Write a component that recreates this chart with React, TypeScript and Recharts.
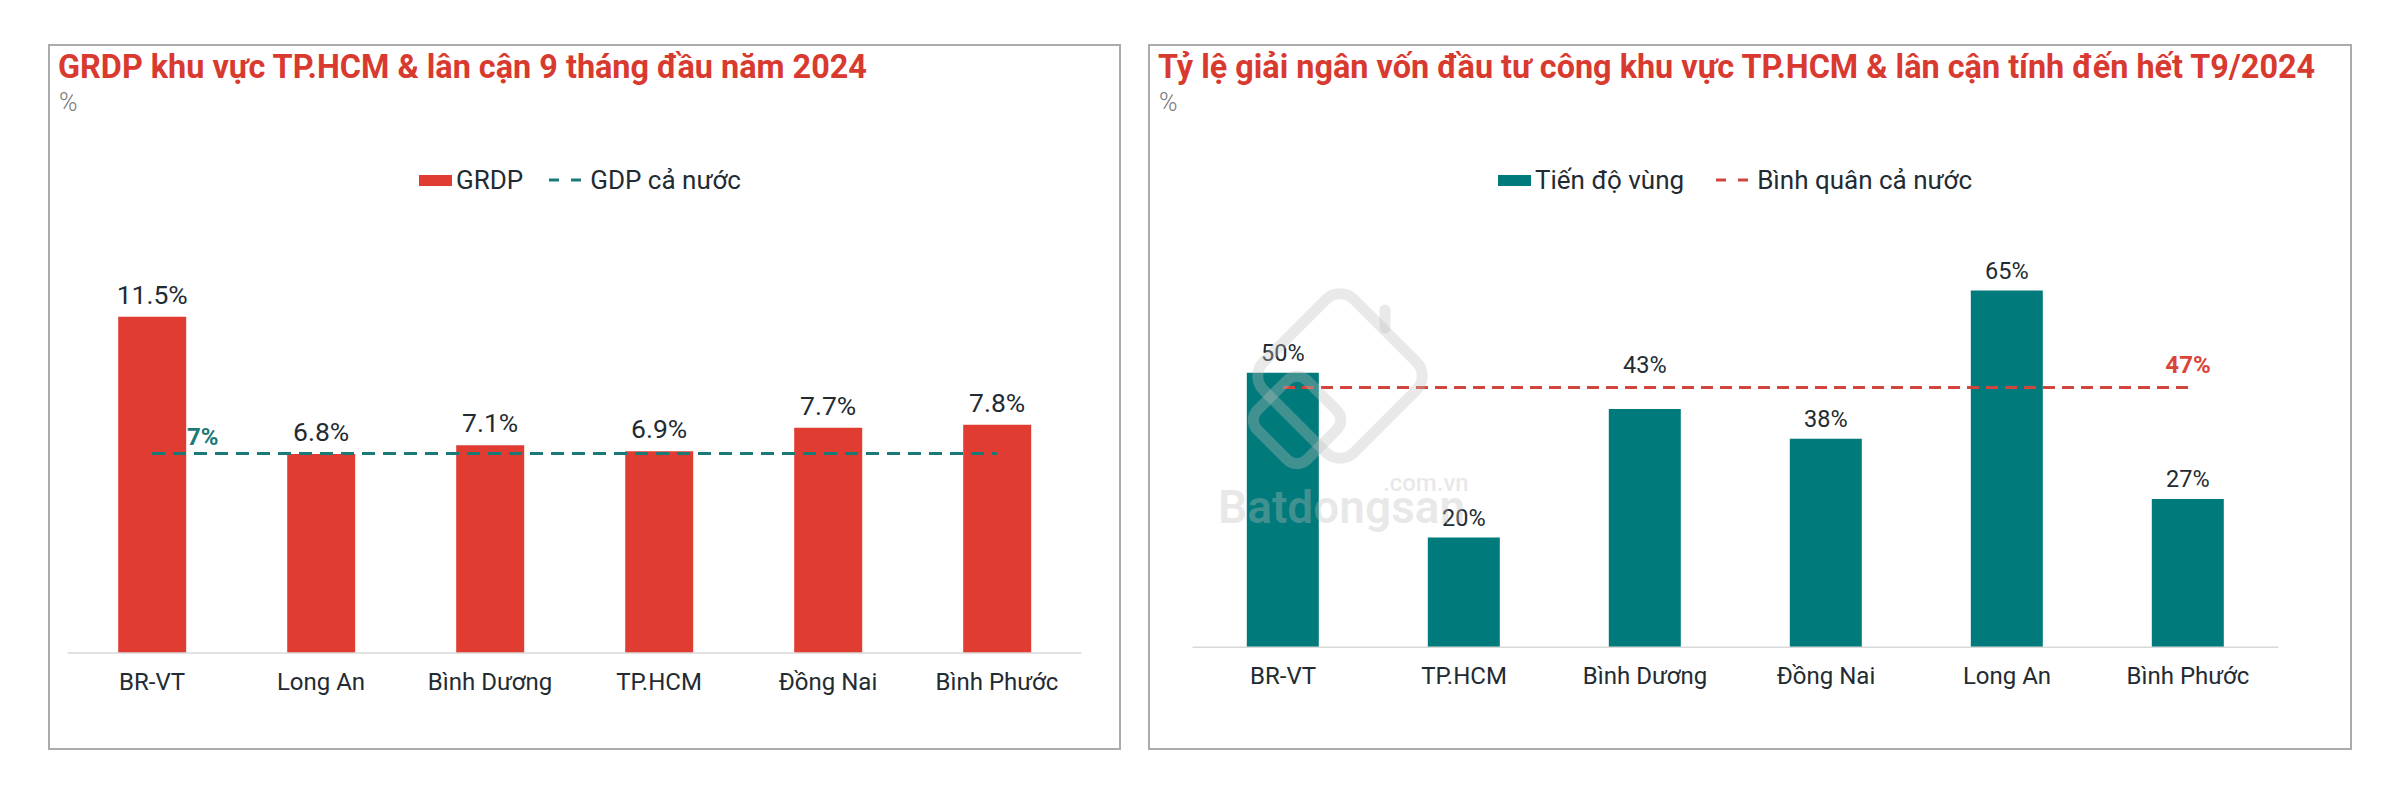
import React from 'react';
import { ComposedChart, Bar, Line, XAxis, YAxis, LabelList } from 'recharts';

// ---------- data ----------
const grdpCategories = ['BR-VT', 'Long An', 'Bình Dương', 'TP.HCM', 'Đồng Nai', 'Bình Phước'];
const grdpValues = [11.5, 6.8, 7.1, 6.9, 7.7, 7.8];
const gdpNational = 6.82;

const disbCategories = ['BR-VT', 'TP.HCM', 'Bình Dương', 'Đồng Nai', 'Long An', 'Bình Phước'];
const disbValues = [50, 20, 43.4, 38, 65, 27];
const disbNational = 47.3;

const leftTitle = 'GRDP khu vực TP.HCM & lân cận 9 tháng đầu năm 2024';
const rightTitle = 'Tỷ lệ giải ngân vốn đầu tư công khu vực TP.HCM & lân cận tính đến hết T9/2024';
const leftLegend = ['GRDP', 'GDP cả nước'];
const rightLegend = ['Tiến độ vùng', 'Bình quân cả nước'];
const unitLabel = '%';

const grdpData = grdpCategories.map((name, i) => ({ name, value: grdpValues[i], avg: gdpNational }));
const disbData = disbCategories.map((name, i) => ({ name, value: disbValues[i], avg: disbNational }));

// ---------- styles ----------
const FONT = 'Roboto, "Noto Sans", sans-serif';
const RED = '#E03C32';
const TEAL = '#007A7A';
const TEAL_LINE = '#1B7A78';
const RED_LINE = '#D0463C';
const TITLE_RED = '#D93A30';
const TEXT = '#232B32';
const BORDER = '#ABABAB';

function getBox(props: any) {
  const vb = props.viewBox || {};
  return {
    x: props.x ?? vb.x,
    y: props.y ?? vb.y,
    width: props.width ?? vb.width ?? 0,
    height: props.height ?? vb.height ?? 0,
  };
}

function makeBarLabel(fmt: (v: number) => string, avg: number, gap: number, fontSize: number) {
  return (props: any) => {
    const { x, y, width, height } = getBox(props);
    const value = Number(props.value);
    if (x == null || y == null || !value) return null;
    const pxPerUnit = height / value;
    const lineY = y + height - avg * pxPerUnit;
    let cy = y - gap;
    if (Math.abs(cy - lineY) < 15) cy = lineY - 23;
    return (
      <text
        x={x + width / 2}
        y={cy + fontSize * 0.355}
        textAnchor="middle"
        fontSize={fontSize}
        fontFamily={FONT}
        fill={TEXT}
      >
        {fmt(value)}
      </text>
    );
  };
}

function makeAvgLabel(which: 'first' | 'last', count: number, color: string, fontSize: number) {
  return (props: any) => {
    const { x, y } = getBox(props);
    const idx = props.index;
    const target = which === 'first' ? 0 : count - 1;
    if (idx !== target || x == null || y == null) return null;
    const txt = `${Math.round(Number(props.value))}%`;
    if (which === 'first') {
      return (
        <text x={x + 35} y={y - 17 + fontSize * 0.355} textAnchor="start" fontSize={fontSize}
          fontWeight={700} fontFamily={FONT} fill={color}>{txt}</text>
      );
    }
    return (
      <text x={x} y={y - 23 + fontSize * 0.355} textAnchor="middle" fontSize={fontSize}
        fontWeight={700} fontFamily={FONT} fill={color}>{txt}</text>
    );
  };
}

function LegendRow({ left, top, barColor, lineColor, labels, gap }: any) {
  return (
    <div
      style={{
        position: 'absolute', left, top, display: 'flex', alignItems: 'center',
        fontFamily: FONT, fontSize: 26, color: TEXT, lineHeight: '30px', whiteSpace: 'nowrap',
      }}
    >
      <span style={{ width: 33, height: 11, background: barColor, display: 'inline-block', marginRight: 4 }} />
      <span>{labels[0]}</span>
      <svg width={33} height={6} style={{ marginLeft: gap, marginRight: 8 }}>
        <line x1={0} y1={3} x2={33} y2={3} stroke={lineColor} strokeWidth={3} strokeDasharray="10 12" />
      </svg>
      <span>{labels[1]}</span>
    </div>
  );
}

function Title({ left, text }: any) {
  return (
    <>
      <div style={{ position: 'absolute', left, top: 51.2, fontFamily: FONT, fontWeight: 700, fontSize: 32.4,
        lineHeight: '32.4px', color: TITLE_RED, whiteSpace: 'nowrap' }}>{text}</div>
      <div style={{ position: 'absolute', left: left + 1, top: 89.7, fontFamily: FONT, fontWeight: 300, fontSize: 25,
        lineHeight: '25px', color: '#7A7A7A' }}>{unitLabel}</div>
    </>
  );
}

function Watermark() {
  const c = 'rgba(190,190,190,0.34)';
  return (
    <svg width={320} height={280} style={{ position: 'absolute', left: 1190, top: 270, pointerEvents: 'none' }}>
      <g fill="none" stroke={c} strokeWidth={11} strokeLinejoin="round" strokeLinecap="round">
        <rect x={86} y={42} width={128} height={128} rx={20} transform="rotate(45 150 106)" />
        <rect x={72} y={115} width={70} height={70} rx={14} transform="rotate(45 107 150)" />
        <line x1={195} y1={40} x2={195} y2={58} />
      </g>
      <text x={28} y={253} fontFamily={FONT} fontWeight={600} fontSize={46} fill={c}>Batdongsan</text>
      <text x={193} y={221} fontFamily={FONT} fontWeight={500} fontSize={24} fill={c}>.com.vn</text>
    </svg>
  );
}

export default function App() {
  return (
    <div style={{ position: 'absolute', left: 0, top: 0, width: 2386, height: 790, background: '#fff', overflow: 'hidden' }}>
      {/* panels */}
      <div style={{ position: 'absolute', left: 48, top: 44, width: 1073, height: 706, border: `2px solid ${BORDER}`, boxSizing: 'border-box' }} />
      <div style={{ position: 'absolute', left: 1148, top: 44, width: 1204, height: 706, border: `2px solid ${BORDER}`, boxSizing: 'border-box' }} />

      <Title left={58} text={leftTitle} />
      <Title left={1158} text={rightTitle} />

      <LegendRow left={419} top={165} barColor={RED} lineColor={TEAL_LINE} labels={leftLegend} gap={26} />
      <LegendRow left={1498} top={165} barColor={TEAL} lineColor={RED_LINE} labels={rightLegend} gap={32} />

      {/* left chart */}
      <div style={{ position: 'absolute', left: 48, top: 44 }}>
        <ComposedChart width={1073} height={705} data={grdpData} barCategoryGap="30%"
          margin={{ top: 199.5, right: 39.5, left: 19.5, bottom: 46 }} style={{ fontFamily: FONT }}>
          <XAxis dataKey="name" interval={0} tickLine={false} height={50} tickMargin={14}
            axisLine={{ stroke: '#D9D9D9', strokeWidth: 1.5 }}
            tick={{ fontSize: 24, fill: TEXT, fontFamily: FONT }} />
          <YAxis hide domain={[0, 14]} />
          <Bar dataKey="value" fill={RED} isAnimationActive={false}>
            <LabelList dataKey="value" content={makeBarLabel((v) => `${v.toFixed(1)}%`, gdpNational, 22.5, 26.5)} />
          </Bar>
          <Line dataKey="avg" stroke={TEAL_LINE} strokeWidth={3} strokeDasharray="13 8" dot={false}
            activeDot={false} isAnimationActive={false}>
            <LabelList dataKey="avg" content={makeAvgLabel('first', grdpData.length, TEAL_LINE, 24)} />
          </Line>
        </ComposedChart>
      </div>

      {/* right chart */}
      <div style={{ position: 'absolute', left: 1148, top: 44 }}>
        <ComposedChart width={1204} height={706} data={disbData} barCategoryGap="30%"
          margin={{ top: 164.1, right: 73.5, left: 44.5, bottom: 52.7 }} style={{ fontFamily: FONT }}>
          <XAxis dataKey="name" interval={0} tickLine={false} height={50} tickMargin={14}
            axisLine={{ stroke: '#D9D9D9', strokeWidth: 1.5 }}
            tick={{ fontSize: 24, fill: TEXT, fontFamily: FONT }} />
          <YAxis hide domain={[0, 80]} />
          <Bar dataKey="value" fill={TEAL} isAnimationActive={false}>
            <LabelList dataKey="value" content={makeBarLabel((v) => `${Math.round(v)}%`, disbNational, 20, 23.5)} />
          </Bar>
          <Line dataKey="avg" stroke={RED_LINE} strokeWidth={3} strokeDasharray="12 7" dot={false}
            activeDot={false} isAnimationActive={false}>
            <LabelList dataKey="avg" content={makeAvgLabel('last', disbData.length, '#D9453B', 24)} />
          </Line>
        </ComposedChart>
      </div>

      <Watermark />
    </div>
  );
}
